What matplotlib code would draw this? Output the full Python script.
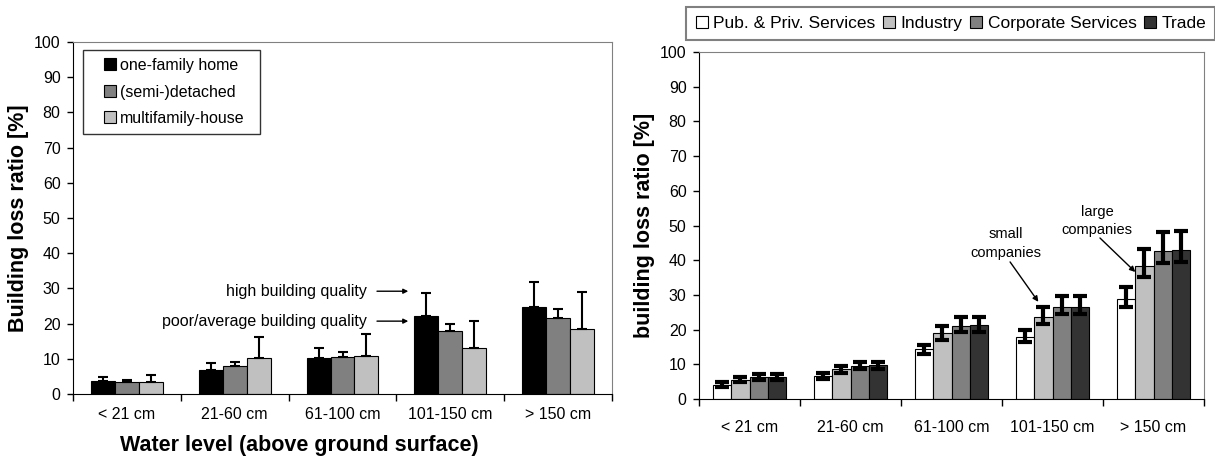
import matplotlib.pyplot as plt
from matplotlib.lines import Line2D
import numpy as np

plt.rcParams['font.family'] = ['Liberation Sans', 'DejaVu Sans']

categories = ['< 21 cm', '21-60 cm', '61-100 cm', '101-150 cm', '> 150 cm']

# left panel: residential buildings (mean and upper error end)
res_names = ['one-family home', '(semi-)detached', 'multifamily-house']
res_colors = ['#000000', '#808080', '#c0c0c0']
one_family = [3.7, 6.9, 10.2, 22.3, 24.6]
one_family_top = [4.8, 8.9, 13.2, 28.8, 31.7]
semi_detached = [3.5, 8.0, 10.6, 17.8, 21.7]
semi_detached_top = [3.9, 9.0, 11.9, 19.8, 24.1]
multifamily = [3.5, 10.2, 10.9, 13.2, 18.5]
multifamily_top = [5.4, 16.1, 17.0, 20.6, 29.0]

# right panel: companies by sector (mean, lower and upper error ends)
sec_names = ['Pub. & Priv. Services', 'Industry', 'Corporate Services', 'Trade']
sec_colors = ['#ffffff', '#c0c0c0', '#808080', '#333333']
pub_priv = [4.1, 6.7, 14.3, 18.0, 28.9]
pub_priv_lo = [3.4, 5.9, 13.1, 16.3, 26.6]
pub_priv_hi = [4.9, 7.6, 15.7, 19.9, 32.2]
industry = [5.5, 8.6, 18.9, 23.6, 38.2]
industry_lo = [4.8, 7.6, 16.9, 21.7, 35.1]
industry_hi = [6.3, 9.6, 21.0, 26.5, 43.1]
corporate = [6.3, 9.6, 21.1, 26.5, 42.6]
corporate_lo = [5.4, 8.6, 19.3, 24.4, 39.3]
corporate_hi = [7.2, 10.8, 23.6, 29.6, 48.0]
trade = [6.3, 9.7, 21.4, 26.5, 43.0]
trade_lo = [5.4, 8.6, 19.3, 24.4, 39.5]
trade_hi = [7.2, 10.8, 23.6, 29.8, 48.4]

fig = plt.figure(figsize=(12.15, 4.59), dpi=100)
ax1 = fig.add_axes([73/1215, 1-394/459, 539/1215, 352/459])
ax2 = fig.add_axes([699/1215, 1-399/459, 505/1215, 347/459])

x = np.arange(len(categories))


def style_axes(ax, pad):
    ax.set_xlim(-0.5, len(categories) - 0.5)
    ax.set_ylim(0, 100)
    ax.set_yticks(range(0, 101, 10))
    ax.set_xticks(x)
    ax.set_xticklabels(categories)
    ax.set_xticks(np.arange(-0.5, len(categories), 1), minor=True)
    ax.tick_params(axis='x', which='major', length=0, pad=pad, labelsize=11.5)
    ax.tick_params(axis='x', which='minor', length=5, width=1, direction='out')
    ax.tick_params(axis='y', length=4, width=1, direction='out', pad=5, labelsize=11.5)
    for s in ['top', 'right']:
        ax.spines[s].set_color('#808080')
    for s in ['left', 'bottom']:
        ax.spines[s].set_color('black')


# ---- left panel
w = 0.222
res_vals = [one_family, semi_detached, multifamily]
res_tops = [one_family_top, semi_detached_top, multifamily_top]
for i, (vals, tops, col) in enumerate(zip(res_vals, res_tops, res_colors)):
    vals = np.array(vals)
    up = np.array(tops) - vals
    ax1.bar(x + (i - 1) * w, vals, w, color=col, edgecolor='black', linewidth=0.8,
            yerr=[np.zeros_like(vals), up], capsize=3.5,
            error_kw=dict(ecolor='black', elinewidth=1.5, capthick=1.5), zorder=2)

style_axes(ax1, pad=9.4)
ax1.set_ylabel('Building loss ratio [%]', fontsize=15.5, fontweight='bold')
ax1.yaxis.label.set_va('center')
ax1.yaxis.set_label_coords(-0.102, 0.5)
ax1.set_xlabel('Water level (above ground surface)', fontsize=15.5, fontweight='bold')
ax1.xaxis.label.set_va('center')
ax1.xaxis.set_label_coords(0.42, -0.145)

handles = [Line2D([], [], marker='s', ls='none', markersize=8.5, markerfacecolor=c,
                  markeredgecolor='black', markeredgewidth=0.8) for c in res_colors]
leg1 = ax1.legend(handles, res_names, loc='upper left',
                  bbox_to_anchor=(0.0186, 0.977 - 0.227, 0.328, 0.227), mode='expand',
                  borderaxespad=0, fontsize=11.5, frameon=True, fancybox=False,
                  handlelength=2.44, handletextpad=-0.65, labelspacing=0.72,
                  borderpad=0.5, edgecolor='black')
leg1.get_frame().set_linewidth(1.0)

arrow = dict(arrowstyle='-|>', color='black', lw=1, mutation_scale=7, shrinkA=0, shrinkB=0)
ax1.annotate('', xy=(2.61, 29.2), xytext=(2.32, 29.2), arrowprops=arrow)
ax1.annotate('', xy=(2.61, 20.7), xytext=(2.32, 20.7), arrowprops=arrow)
ax1.text(2.227, 29.2, 'high building quality', ha='right', va='center', fontsize=11.5)
ax1.text(2.227, 20.7, 'poor/average building quality', ha='right', va='center', fontsize=11.5)

# ---- right panel
w2 = 0.183
sec_vals = [pub_priv, industry, corporate, trade]
sec_lo = [pub_priv_lo, industry_lo, corporate_lo, trade_lo]
sec_hi = [pub_priv_hi, industry_hi, corporate_hi, trade_hi]
for i, (vals, lo, hi, col) in enumerate(zip(sec_vals, sec_lo, sec_hi, sec_colors)):
    vals = np.array(vals)
    err = [vals - np.array(lo), np.array(hi) - vals]
    ax2.bar(x + (i - 1.5) * w2, vals, w2, color=col, edgecolor='black', linewidth=0.8,
            yerr=err, capsize=5,
            error_kw=dict(ecolor='black', elinewidth=3, capthick=3), zorder=2)

style_axes(ax2, pad=15.2)
ax2.set_ylabel('building loss ratio [%]', fontsize=15.5, fontweight='bold')
ax2.yaxis.label.set_va('center')
ax2.yaxis.set_label_coords(-0.107, 0.5)

narrow = ['Liberation Sans Narrow', 'Liberation Sans']
arrow2 = dict(arrowstyle='-|>', color='black', lw=1, mutation_scale=8, shrinkA=0, shrinkB=0)
ax2.text(2.54, 44.7, 'small\ncompanies', ha='center', va='center', fontsize=10.5,
         family=narrow, linespacing=1.45)
ax2.annotate('', xy=(2.86, 28.0), xytext=(2.58, 39.5), arrowprops=arrow2)
ax2.text(3.44, 51.3, 'large\ncompanies', ha='center', va='center', fontsize=10.5,
         family=narrow, linespacing=1.45)
ax2.annotate('', xy=(3.82, 36.6), xytext=(3.47, 46.4), arrowprops=arrow2)

handles2 = [Line2D([], [], marker='s', ls='none', markersize=9, markerfacecolor=c,
                   markeredgecolor='black', markeredgewidth=0.8) for c in sec_colors]
leg2 = fig.legend(handles2, sec_names, loc='upper right', bbox_to_anchor=(1.0, 1 - 7/459),
                  ncol=4, fontsize=12.5, frameon=True, fancybox=False,
                  handlelength=0.8, handletextpad=0.25, columnspacing=0.4,
                  borderpad=0.5, borderaxespad=0, edgecolor='#606060')
leg2.get_frame().set_linewidth(1.5)

fig.savefig('out.png', dpi=100)
